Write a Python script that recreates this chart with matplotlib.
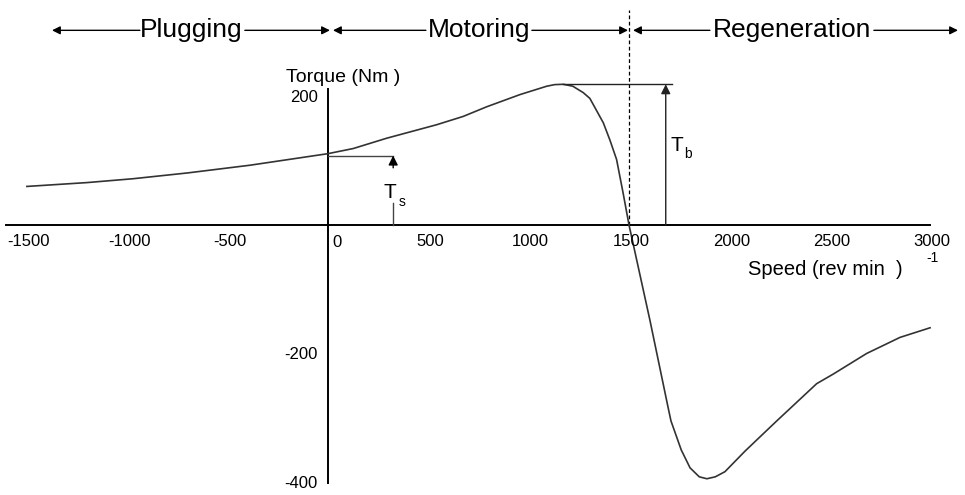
import matplotlib.pyplot as plt

plt.rcParams['font.family'] = ['Liberation Sans', 'DejaVu Sans']

# torque-speed curve of the induction motor
speed = [-1500, -1200, -971, -700, -389, 0, 126, 292, 541, 674, 791, 957, 1090,
         1130, 1173, 1220, 1272, 1305, 1372, 1405, 1438, 1471, 1500, 1604, 1696,
         1709, 1760, 1804, 1850, 1888, 1930, 1978, 2078, 2236, 2435, 2518, 2684,
         2850, 3000]
torque = [60, 66, 72, 81, 93, 111, 119, 135, 156, 169, 184, 203, 216,
          218.5, 219, 216, 206, 197, 159, 132, 102, 49, 0, -148, -286,
          -305, -350, -378, -392, -395, -392, -384, -352, -305, -247, -232, -200,
          -175, -160]

x_ticks = [-1500, -1000, -500, 0, 500, 1000, 1500, 2000, 2500, 3000]
y_ticks = [200, -200, -400]
regions = ['Plugging', 'Motoring', 'Regeneration']

t_start = 108      # starting torque Ts
t_break = 219      # breakdown torque Tb
sync_speed = 1500

fig = plt.figure(figsize=(9.65, 4.95), dpi=100)
ax = fig.add_axes([0, 0, 1, 1])
ax.set_xlim(-1634, 3174)
ax.set_ylim(-420.3, 350.2)
ax.axis('off')

# axes
ax.plot([-1605, 3000], [0, 0], color='black', lw=1.4)
ax.plot([0, 0], [-401, 212], color='black', lw=1.4)
ax.plot([sync_speed, sync_speed], [0, 335], color='black', lw=0.9, ls=(0, (3, 2)))

# curve
ax.plot(speed, torque, color='#333333', lw=1.2)

# tick labels
for v in x_ticks:
    if v == 0:
        ax.text(20, -27, '0', ha='left', va='center', fontsize=12)
    else:
        ax.text(v + 10, -26, str(v), ha='center', va='center', fontsize=12)
for v in y_ticks:
    ax.text(-50, v - 2, str(v), ha='right', va='center', fontsize=12)

ax.text(75, 230, 'Torque (Nm )', ha='center', va='center', fontsize=14)
ax.text(2476, -70, 'Speed (rev min  )', ha='center', va='center', fontsize=14.5)
ax.text(3010, -51, '-1', ha='center', va='center', fontsize=10)

# Ts marker
ax.plot([0, 325], [t_start, t_start], color='#444444', lw=1)
ax.annotate('', xy=(325, t_start), xytext=(325, 89),
            arrowprops=dict(arrowstyle='-|>', color='black', lw=1, mutation_scale=14,
                            shrinkA=0, shrinkB=0))
ax.plot([324, 324], [0, 34], color='#444444', lw=1)
ax.text(309, 50, 'T', ha='center', va='center', fontsize=15)
ax.text(369, 36, 's', ha='center', va='center', fontsize=10)

# Tb marker
ax.plot([1173, 1714], [t_break, t_break], color='#222222', lw=1)
ax.annotate('', xy=(1683, t_break), xytext=(1683, 0),
            arrowprops=dict(arrowstyle='-|>', color='#222222', lw=1, mutation_scale=14,
                            shrinkA=0, shrinkB=0))
ax.text(1739, 124, 'T', ha='center', va='center', fontsize=15)
ax.text(1794, 110, 'b', ha='center', va='center', fontsize=10)

# region headers with arrows
hy = 303
spans = [(-1375, -937, -414, 10, -680),
         (25, 488, 1016, 1495, 752),
         (1520, 1903, 2720, 3139, 2311)]
for name, (x0, x1, x2, x3, xc) in zip(regions, spans):
    ax.text(xc, hy, name, ha='center', va='center', fontsize=19)
    for a, b in [(x1, x0), (x2, x3)]:
        ax.annotate('', xy=(b, hy), xytext=(a, hy),
                    arrowprops=dict(arrowstyle='-|>', color='black', lw=1,
                                    mutation_scale=12, shrinkA=0, shrinkB=0))

plt.savefig('out.png', dpi=100)
plt.close()
